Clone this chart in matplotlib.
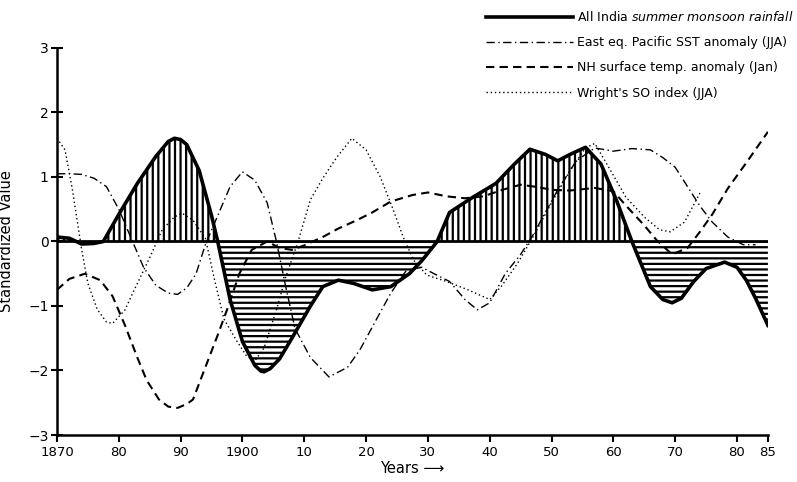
import numpy as np
import matplotlib
matplotlib.use('Agg')
import matplotlib.pyplot as plt
from matplotlib.lines import Line2D

# values (year, standardized value)
rain_years = [1870, 1872, 1874, 1876, 1877.5, 1880, 1883, 1886, 1888, 1889, 1890, 1891, 1893,
              1895, 1896, 1898, 1900, 1902, 1903, 1903.5, 1904.5, 1906, 1908, 1911, 1913, 1915.5,
              1918, 1921, 1924, 1927, 1929, 1931.5, 1933.5, 1937, 1941, 1944, 1946.5, 1949,
              1951, 1953, 1955.5, 1958, 1960.5, 1963, 1966, 1968, 1969.5, 1971, 1973, 1975,
              1978, 1980, 1981.5, 1983, 1985]
rain_vals = [0.07, 0.05, -0.04, -0.03, 0.0, 0.42, 0.9, 1.32, 1.55, 1.6, 1.58, 1.5, 1.1,
             0.4, 0.0, -0.9, -1.55, -1.92, -2.01, -2.02, -1.97, -1.82, -1.5, -1.0, -0.7, -0.6,
             -0.65, -0.75, -0.7, -0.5, -0.3, 0.0, 0.45, 0.67, 0.9, 1.2, 1.43, 1.35,
             1.25, 1.35, 1.46, 1.2, 0.64, 0.0, -0.7, -0.9, -0.95, -0.88, -0.62, -0.42,
             -0.32, -0.4, -0.6, -0.88, -1.3]

sst_years = [1870, 1872, 1874, 1876, 1878, 1880, 1882, 1884, 1886, 1888, 1889.5, 1891, 1892.5,
             1894, 1896, 1898, 1900, 1902, 1904, 1905.5, 1907, 1908.5, 1911, 1914, 1917, 1919,
             1922, 1924, 1926.5, 1929, 1931, 1933.5, 1936, 1938, 1940, 1942.5, 1945, 1947,
             1949, 1951, 1954, 1957, 1960, 1963, 1966, 1968, 1970, 1972, 1974, 1976, 1978.5,
             1981, 1983]
sst_vals = [1.05, 1.05, 1.04, 0.98, 0.85, 0.5, 0.05, -0.4, -0.68, -0.8, -0.82, -0.72, -0.5,
            -0.05, 0.4, 0.85, 1.08, 0.95, 0.6, 0.0, -0.7, -1.35, -1.8, -2.1, -1.95, -1.68,
            -1.15, -0.8, -0.45, -0.4, -0.5, -0.62, -0.9, -1.06, -0.95, -0.5, -0.2, 0.1,
            0.45, 0.8, 1.25, 1.45, 1.4, 1.44, 1.42, 1.3, 1.15, 0.85, 0.55, 0.3, 0.07,
            -0.05, -0.05]

nh_years = [1870, 1872, 1874.5, 1877, 1879, 1881, 1883, 1884.5, 1886.5, 1888, 1889.5, 1891,
            1892, 1894, 1896, 1897.5, 1899.5, 1901.5, 1904, 1906, 1908, 1910, 1913, 1915.5,
            1918.5, 1921, 1924, 1927.5, 1930, 1933, 1936, 1939, 1942, 1945, 1948, 1950, 1953,
            1957, 1960, 1962, 1965, 1967, 1969.5, 1972, 1974, 1976, 1978.5, 1981.5, 1985]
nh_vals = [-0.75, -0.58, -0.5, -0.6, -0.85, -1.3, -1.8, -2.15, -2.45, -2.56, -2.58, -2.52,
           -2.45, -1.95, -1.45, -1.06, -0.5, -0.13, 0.0, -0.1, -0.13, -0.06, 0.07, 0.2,
           0.33, 0.45, 0.62, 0.72, 0.76, 0.7, 0.67, 0.7, 0.8, 0.88, 0.84, 0.8, 0.79,
           0.83, 0.78, 0.56, 0.25, 0.02, -0.2, -0.1, 0.15, 0.42, 0.82, 1.22, 1.7]

so_years = [1870, 1871.3, 1872.5, 1874, 1875, 1876.5, 1878, 1879, 1881, 1882.5, 1885, 1887,
            1889, 1890.2, 1892, 1894, 1895.5, 1897, 1899, 1900.7, 1902, 1903.5, 1905.5, 1907,
            1909, 1911, 1913, 1915.3, 1917.7, 1920, 1922.3, 1924.4, 1926, 1927.7, 1929.8,
            1933, 1936.5, 1940, 1942, 1944.5, 1947, 1950, 1953, 1955.5, 1957, 1959.5, 1962,
            1965, 1967.5, 1969.2, 1971.5, 1974]
so_vals = [1.6, 1.42, 0.8, -0.13, -0.65, -1.05, -1.25, -1.27, -1.06, -0.75, -0.25, 0.18,
           0.38, 0.44, 0.33, 0.05, -0.6, -1.2, -1.53, -1.78, -1.85, -1.65, -1.06, -0.55,
           0.0, 0.65, 0.98, 1.31, 1.6, 1.42, 1.0, 0.49, 0.07, -0.29, -0.52,
           -0.62, -0.75, -0.9, -0.68, -0.34, 0.07, 0.6, 1.1, 1.45, 1.52, 1.11, 0.69,
           0.38, 0.18, 0.15, 0.3, 0.75]

x_ticks = [1870, 1880, 1890, 1900, 1910, 1920, 1930, 1940, 1950, 1960, 1970, 1980, 1985]
x_ticklabels = ['1870', '80', '90', '1900', '10', '20', '30', '40', '50', '60', '70', '80', '85']
y_ticks = [-3, -2, -1, 0, 1, 2, 3]

plt.rcParams['font.family'] = 'DejaVu Sans'
plt.rcParams['hatch.linewidth'] = 1.6

fig = plt.figure(figsize=(7.97, 4.82), dpi=100)
ax = fig.add_axes([0.0715, 0.0975, 0.892, 0.803])

rx = np.array(rain_years)
ry = np.array(rain_vals)

# hatched areas: vertical above zero, horizontal below
ax.fill_between(rx, ry, 0, where=ry >= 0, interpolate=True, facecolor='none',
                edgecolor='k', linewidth=0, hatch='|||')
ax.fill_between(rx, ry, 0, where=ry <= 0, interpolate=True, facecolor='none',
                edgecolor='k', linewidth=0, hatch='---')
ax.axhline(0, color='k', lw=2)

ax.plot(sst_years, sst_vals, color='k', lw=1.0, ls=(0, (6, 2.5, 1, 2.5)))
ax.plot(nh_years, nh_vals, color='k', lw=1.5, ls=(0, (4, 2.5)))
ax.plot(so_years, so_vals, color='k', lw=1.0, ls=(0, (1, 2)))
ax.plot(rx, ry, color='k', lw=2.6)

ax.set_xlim(1870, 1985)
ax.set_ylim(-3, 3)
ax.set_xticks(x_ticks)
ax.set_xticklabels(x_ticklabels, fontsize=9.5)
ax.set_yticks(y_ticks)
ax.set_yticklabels([str(v).replace('-', '\u2212') for v in y_ticks], fontsize=10)
ax.tick_params(axis='x', direction='out', length=5, width=1.5, pad=3)
ax.tick_params(axis='y', direction='inout', length=8, width=1.5, pad=2)
for s in ['top', 'right']:
    ax.spines[s].set_visible(False)
for s in ['left', 'bottom']:
    ax.spines[s].set_linewidth(1.8)

ax.set_ylabel('Standardized Value', fontsize=10.5, labelpad=10)
ax.set_xlabel('Years \u27f6', fontsize=10.5, labelpad=1)

handles = [
    Line2D([], [], color='k', lw=2.6),
    Line2D([], [], color='k', lw=1.0, ls=(0, (6, 2.5, 1, 2.5))),
    Line2D([], [], color='k', lw=1.5, ls=(0, (4, 2.5))),
    Line2D([], [], color='k', lw=1.0, ls=(0, (1, 2))),
]
labels = [
    r'All India $\it{summer\ monsoon\ rainfall}$',
    'East eq. Pacific SST anomaly (JJA)',
    'NH surface temp. anomaly (Jan)',
    "Wright's SO index (JJA)",
]
fig.legend(handles, labels, loc='upper right', bbox_to_anchor=(1.005, 0.995),
           frameon=False, fontsize=9, handlelength=7, handletextpad=0.3,
           labelspacing=0.98, borderaxespad=0.2)

fig.savefig('out.png', dpi=100)
